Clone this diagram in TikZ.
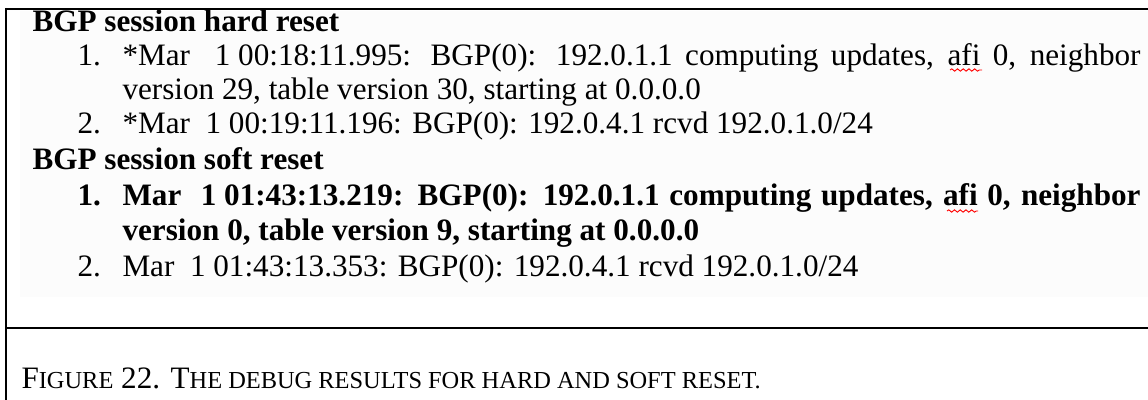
\documentclass[tikz,border=0pt]{standalone}
\usepackage{fontspec}
\setmainfont{Liberation Serif}
\usetikzlibrary{decorations.pathmorphing}
\newlength\pxu
\setlength\pxu{0.385pt}
% small capitals faked at a reduced size
\newcommand\smc[1]{{\fontsize{9.4}{11}\selectfont #1}}
\begin{document}
\begin{tikzpicture}[x=0.385pt,y=-0.385pt,
  txt/.style={anchor=base west,inner sep=0pt,font=\fontsize{12}{14}\selectfont},
  bold/.style={txt,font=\fontsize{12}{14}\selectfont\bfseries},
  rule/.style={line width=0.8pt},
  squiggle/.style={red,line width=0.35pt,decorate,
    decoration={snake,amplitude=0.45pt,segment length=2.2pt}}]
\useasboundingbox (0,0) rectangle (1148,400);
% faint shading behind the log text
\fill[black!1] (20,11) rectangle (1148,297);
% frame rules
\draw[rule] (5,9) -- (1148,9);
\draw[rule] (6,8) -- (6,400);
\draw[rule] (6,328) -- (1148,328);

% hard reset
\node[bold] (h1) at (32,32) {BGP session hard reset};
\node[txt] (n1) at (77,66) {1.};
\node[txt] (l1) at (122,66) {\makebox[1018\pxu][s]{*Mar\ \ 1\hspace{0.25em}00:18:11.995: BGP(0): 192.0.1.1 computing updates, afi 0, neighbor}};
\node[txt] (l1b) at (122,100) {version 29, table version 30, starting at 0.0.0.0};
\node[txt] (n2) at (77,134) {2.};
\node[txt] (l2) at (122,134) {*Mar\ \ 1 00:19:11.196: BGP(0): 192.0.4.1 rcvd 192.0.1.0/24};

% soft reset
\node[bold] (h2) at (32,170) {BGP session soft reset};
\node[bold] (n3) at (77,206) {1.};
\node[bold] (l3) at (122,206) {\makebox[1018\pxu][s]{Mar\ \ 1\hspace{0.25em}01:43:13.219: BGP(0): 192.0.1.1 computing updates, afi 0, neighbor}};
\node[bold] (l3b) at (122,241) {version 0, table version 9, starting at 0.0.0.0};
\node[txt] (n4) at (77,276) {2.};
\node[txt] (l4) at (122,276) {Mar\ \ 1 01:43:13.353: BGP(0): 192.0.4.1 rcvd 192.0.1.0/24};

% spell-check marks under "afi"
\draw[squiggle] (950,70) -- (982,70);
\draw[squiggle] (947,211) -- (978,211);

% caption
\node[txt] (cap) at (21,388) {F\smc{IGURE} 22. T\smc{HE DEBUG RESULTS FOR HARD AND SOFT RESET.}};
\end{tikzpicture}
\end{document}
